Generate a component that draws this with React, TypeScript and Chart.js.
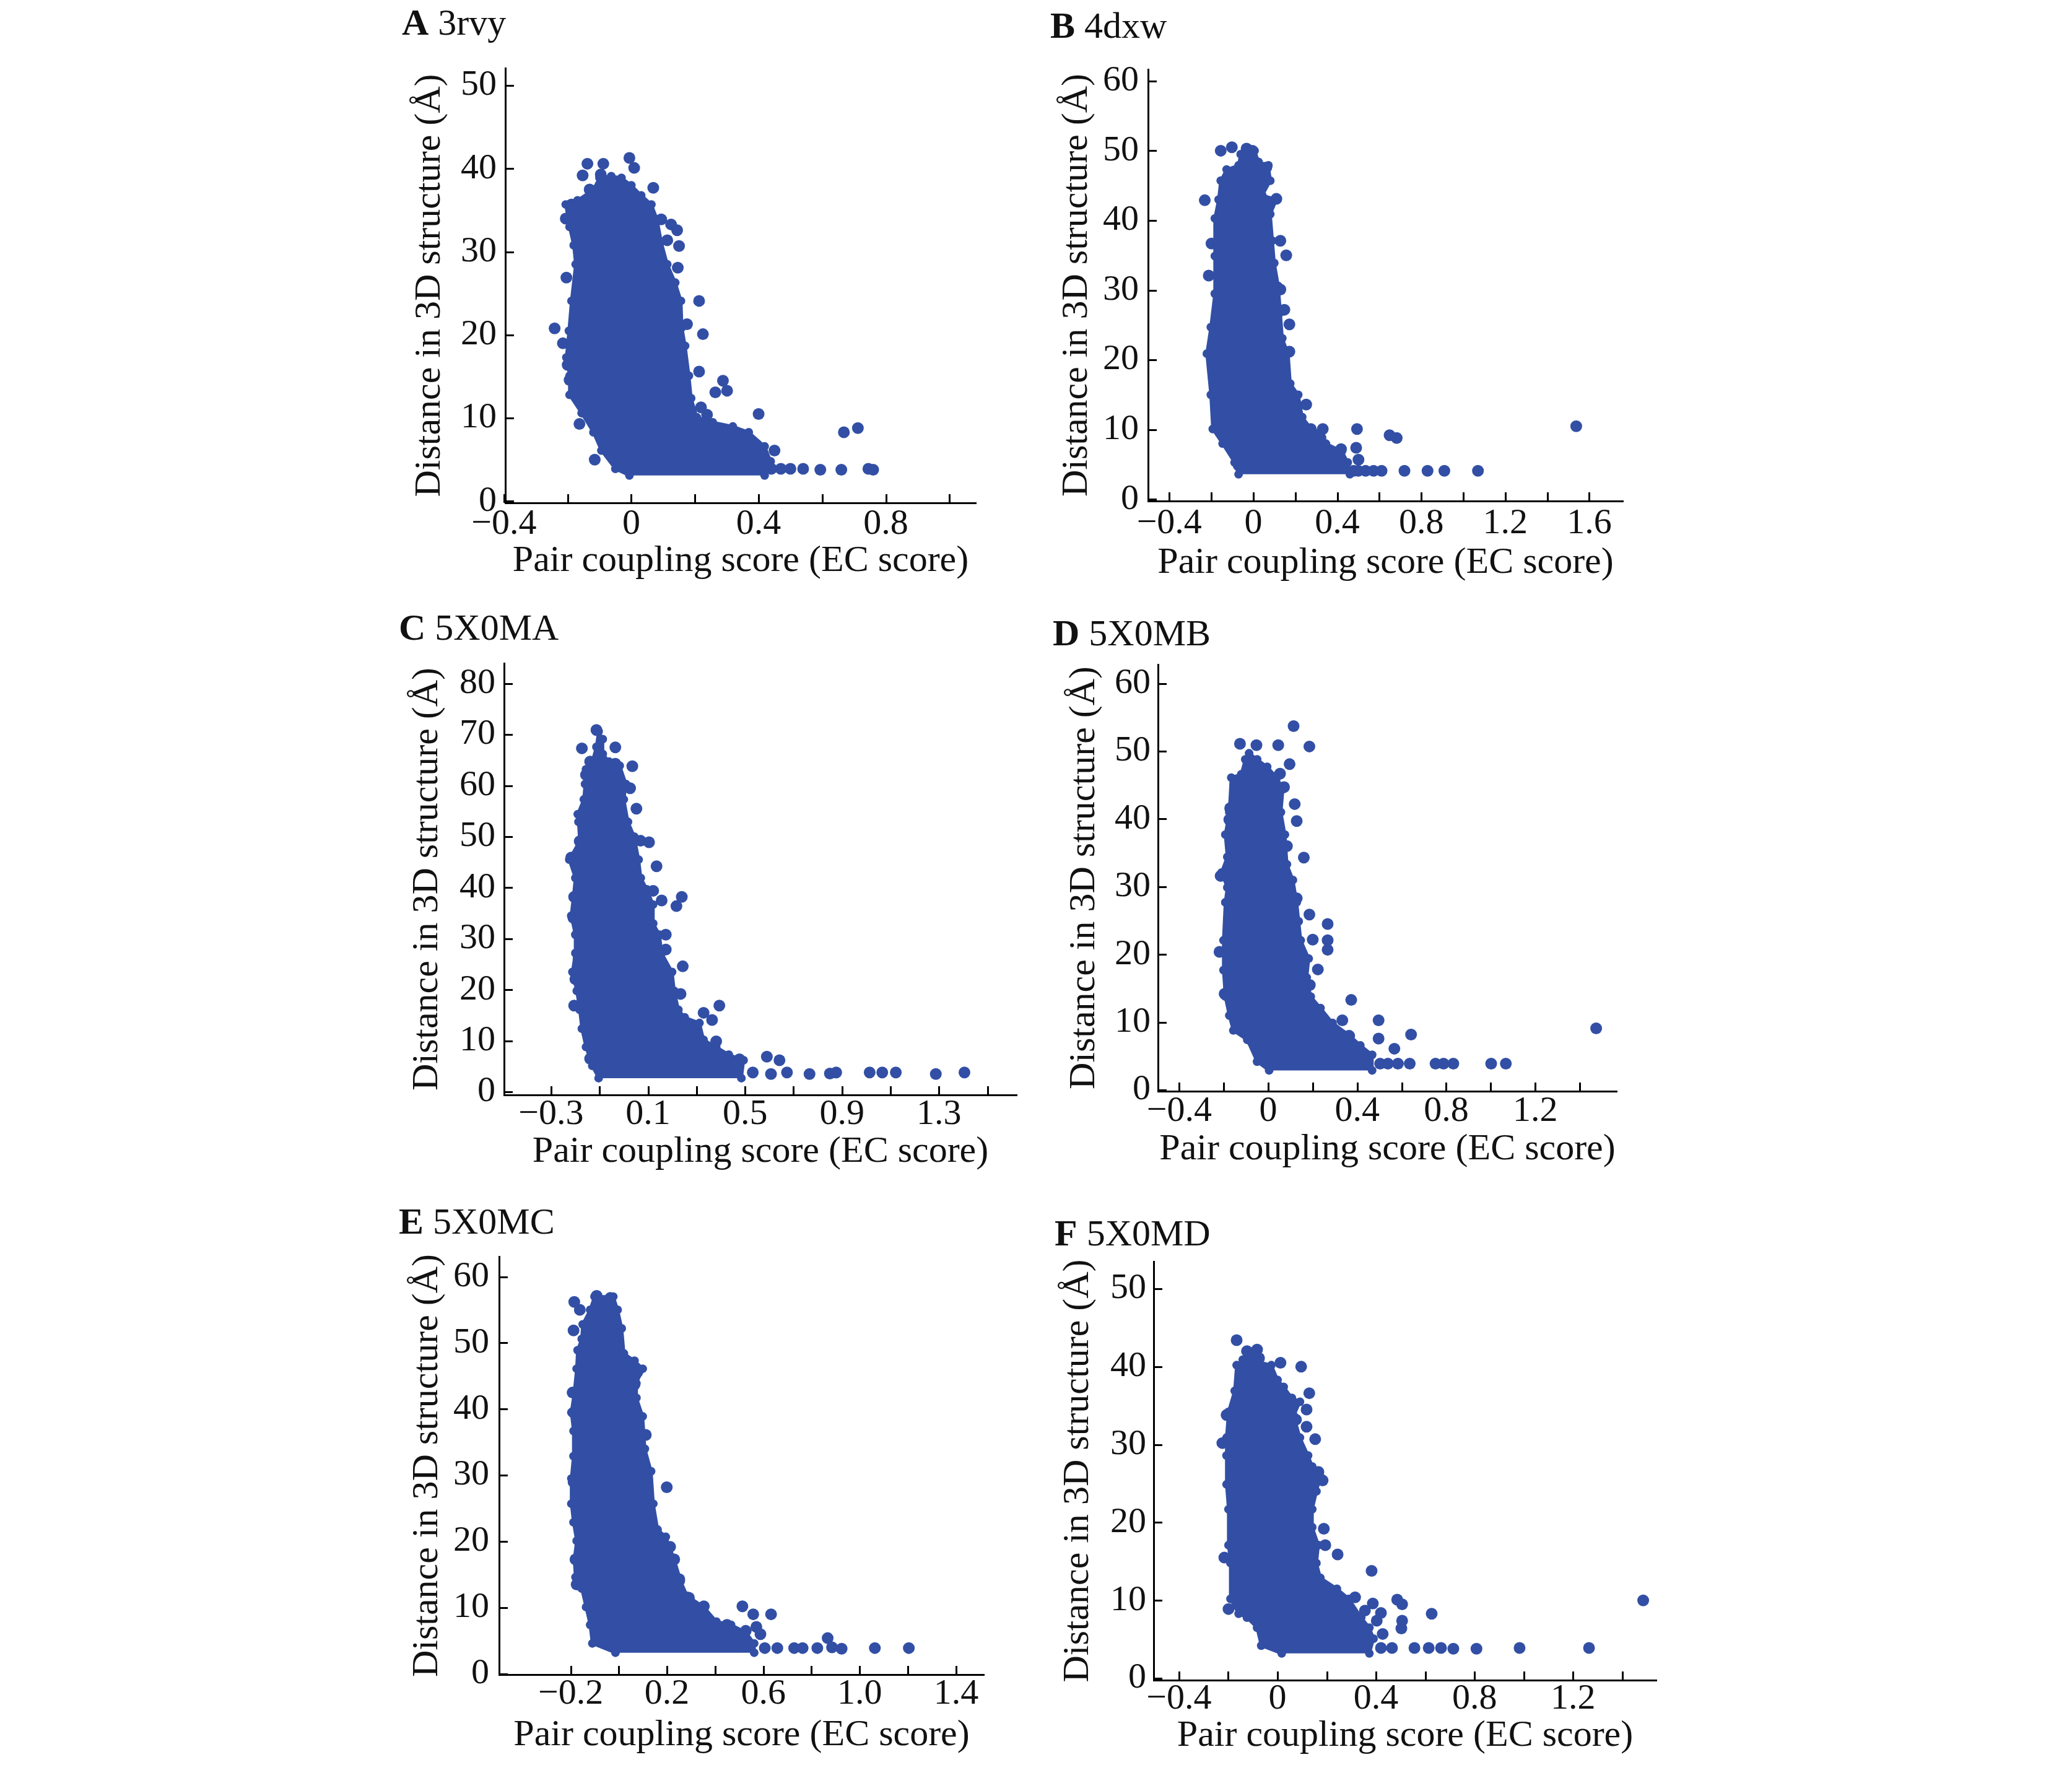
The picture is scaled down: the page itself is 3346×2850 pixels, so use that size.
import React, { useEffect, useRef } from 'react';
import { Chart, registerables } from 'chart.js';

Chart.register(...registerables);

const BLUE = 'rgb(50,79,165)';
const INK = '#111111';
const SERIF = "'Liberation Serif', 'Times New Roman', serif";
const X_TITLE = 'Pair coupling score (EC score)';
const Y_TITLE = 'Distance in 3D structure (Å)';

// ---------- Panel A: 3rvy ----------
const envelopeA: [number, number][] = [
  [-0.006, 3.1], [-0.05, 3.9], [-0.094, 6.1], [-0.119, 8.3], [-0.156, 10.6], [-0.194, 12.8],
  [-0.194, 15.1], [-0.204, 17.3], [-0.196, 20.5], [-0.188, 24.1], [-0.175, 28.5], [-0.181, 30.8],
  [-0.194, 33.0], [-0.206, 35.7], [-0.169, 36.2], [-0.119, 37.5], [-0.1, 38.9], [-0.063, 39.1],
  [-0.031, 38.9], [0, 38.0], [0.031, 36.8], [0.063, 35.7], [0.081, 33.9], [0.094, 31.2],
  [0.113, 28.5], [0.138, 26.3], [0.156, 24.1], [0.159, 20.9], [0.169, 18.7], [0.181, 15.1],
  [0.188, 12.4], [0.206, 10.1], [0.256, 9.5], [0.319, 9.0], [0.369, 8.3], [0.419, 6.6],
  [0.438, 4.8], [0.419, 3.1],
];
const outliersA: [number, number][] = [
  [-0.006, 41.3], [0.009, 40.1], [-0.138, 40.6], [-0.153, 39.2], [-0.088, 40.6], [-0.096, 39.3],
  [-0.131, 37.5], [0.069, 37.7], [0.094, 33.9], [0.125, 33.3], [0.144, 32.6], [0.113, 31.4],
  [0.15, 30.7], [0.146, 28.1], [0.213, 24.1], [0.225, 20.1], [0.175, 21.3], [0.213, 15.6],
  [0.288, 14.5], [0.264, 13.1], [0.301, 13.3], [0.219, 11.3], [0.238, 10.4], [0.4, 10.5],
  [0.668, 8.3], [0.712, 8.8], [-0.115, 5.0], [-0.241, 20.8], [-0.215, 19.0], [-0.204, 26.9],
  [-0.163, 9.3], [0.45, 6.1], [0.44, 3.9], [0.47, 3.9], [0.5, 3.9], [0.54, 3.9], [0.594, 3.8],
  [0.66, 3.8], [0.745, 3.9], [0.76, 3.8], [-0.206, 34.0], [-0.175, 32.8], [-0.188, 35.7],
  [-0.2, 16.4], [-0.194, 14.6],
];
const xTicksA = [-0.4, -0.2, 0, 0.2, 0.4, 0.6, 0.8, 1.0];
const xLabelsA = ['−0.4', '', '0', '', '0.4', '', '0.8', ''];
const yTicksA = [0, 10, 20, 30, 40, 50];

// ---------- Panel B: 4dxw ----------
const envelopeB: [number, number][] = [
  [-0.07, 3.6], [-0.089, 5.3], [-0.146, 8.0], [-0.193, 10.1], [-0.202, 15.0], [-0.221, 20.9],
  [-0.202, 24.7], [-0.183, 29.5], [-0.183, 34.9], [-0.183, 40.3], [-0.165, 43.0], [-0.155, 45.7],
  [-0.127, 47.3], [-0.07, 47.9], [-0.06, 49.5], [0.006, 50.0], [0.025, 48.4], [0.072, 47.9],
  [0.081, 45.7], [0.043, 43.6], [0.11, 43.0], [0.081, 40.9], [0.091, 37.1], [0.1, 33.9],
  [0.119, 30.6], [0.129, 26.8], [0.138, 23.1], [0.166, 20.9], [0.176, 16.6], [0.214, 15.0],
  [0.233, 11.8], [0.289, 9.6], [0.346, 8.0], [0.422, 6.9], [0.45, 5.3], [0.46, 3.6],
];
const outliersB: [number, number][] = [
  [-0.231, 42.9], [-0.199, 36.7], [-0.212, 32.1], [-0.155, 50.0], [-0.102, 50.5], [-0.032, 50.3],
  [-0.004, 50.0], [0.062, 47.6], [0.11, 43.1], [0.129, 37.1], [0.157, 35.0], [0.129, 30.1],
  [0.148, 27.2], [0.172, 25.1], [0.172, 21.2], [0.252, 13.6], [0.274, 10.1], [0.331, 10.1],
  [0.32, 8.8], [0.494, 10.1], [0.49, 7.4], [0.501, 5.7], [0.418, 7.2], [0.649, 9.2], [0.683, 8.8],
  [0.611, 4.1], [0.72, 4.1], [0.83, 4.1], [0.91, 4.1], [1.07, 4.1], [1.538, 10.5], [-0.07, 4.9],
  [0.535, 4.1], [0.573, 4.1], [0.478, 4.1], [0.5, 4.1],
];
const xTicksB = [-0.4, -0.2, 0, 0.2, 0.4, 0.6, 0.8, 1.0, 1.2, 1.4, 1.6];
const xLabelsB = ['−0.4', '', '0', '', '0.4', '', '0.8', '', '1.2', '', '1.6'];
const yTicksB = [0, 10, 20, 30, 40, 50, 60];

// ---------- Panel C: 5X0MA ----------
const envelopeC: [number, number][] = [
  [-0.104, 2.7], [-0.13, 5.1], [-0.156, 8.8], [-0.173, 12.4], [-0.182, 16.1], [-0.194, 19.8],
  [-0.212, 23.5], [-0.2, 27.2], [-0.2, 30.8], [-0.217, 34.5], [-0.208, 38.2], [-0.2, 41.9],
  [-0.225, 45.5], [-0.182, 49.2], [-0.187, 52.9], [-0.19, 54.4], [-0.165, 57.3], [-0.16, 60.3],
  [-0.156, 63.2], [-0.13, 64.7], [-0.113, 67.6], [-0.104, 70.6], [-0.087, 69.1], [-0.087, 66.2],
  [-0.061, 64.7], [-0.017, 63.9], [0.009, 60.3], [0.0, 57.3], [0.017, 52.9], [0.043, 50.0],
  [0.061, 45.5], [0.07, 41.9], [0.095, 39.7], [0.121, 36.7], [0.121, 33.0], [0.147, 30.8],
  [0.156, 27.2], [0.199, 23.5], [0.208, 19.8], [0.225, 16.1], [0.251, 14.6], [0.312, 13.5],
  [0.329, 10.2], [0.381, 8.8], [0.433, 7.3], [0.494, 6.2], [0.485, 2.7],
];
const outliersC: [number, number][] = [
  [-0.113, 70.9], [-0.173, 67.3], [-0.139, 64.7], [-0.156, 62.1], [-0.035, 67.5], [-0.035, 64.3],
  [0.035, 63.8], [0.026, 59.5], [0.052, 55.5], [0.069, 49.2], [0.104, 48.9], [0.135, 44.2],
  [0.121, 39.4], [0.156, 37.5], [0.239, 38.2], [0.217, 36.4], [0.173, 30.8], [0.173, 27.9],
  [0.243, 24.6], [0.234, 19.2], [0.394, 16.9], [0.329, 15.5], [0.364, 14.1], [0.381, 9.9],
  [0.477, 6.4], [0.59, 6.9], [0.642, 6.2], [0.416, 5.4], [0.532, 3.8], [0.607, 3.5], [0.673, 3.8],
  [0.766, 3.5], [0.85, 3.6], [0.876, 3.8], [1.014, 3.8], [1.066, 3.8], [1.122, 3.8], [1.287, 3.5],
  [1.405, 3.8], [-0.205, 16.9], [-0.2, 22.1], [-0.187, 26.1], [-0.205, 38.2], [-0.182, 49.1],
  [-0.217, 45.9], [-0.139, 6.5], [-0.208, 34.1],
];
const xTicksC = [-0.3, -0.1, 0.1, 0.3, 0.5, 0.7, 0.9, 1.1, 1.3, 1.5];
const xLabelsC = ['−0.3', '', '0.1', '', '0.5', '', '0.9', '', '1.3', ''];
const yTicksC = [0, 10, 20, 30, 40, 50, 60, 70, 80];

// ---------- Panel D: 5X0MB ----------
const envelopeD: [number, number][] = [
  [0.004, 2.9], [-0.05, 4.2], [-0.094, 7.4], [-0.157, 8.8], [-0.175, 11.0], [-0.193, 13.8],
  [-0.201, 17.7], [-0.201, 22.1], [-0.193, 27.7], [-0.184, 29.9], [-0.21, 32.1], [-0.184, 34.4],
  [-0.193, 37.7], [-0.175, 41.0], [-0.166, 46.1], [-0.121, 46.6], [-0.103, 48.8], [-0.086, 49.7],
  [-0.05, 48.8], [-0.005, 47.7], [0.039, 46.1], [0.066, 44.4], [0.057, 41.0], [0.075, 37.7],
  [0.084, 33.3], [0.111, 31.0], [0.128, 27.7], [0.137, 24.9], [0.146, 22.1], [0.182, 19.4],
  [0.173, 16.6], [0.191, 13.8], [0.235, 12.1], [0.289, 9.9], [0.36, 8.2], [0.414, 6.6],
  [0.467, 5.2], [0.467, 2.9],
];
const outliersD: [number, number][] = [
  [-0.127, 51.1], [-0.053, 50.9], [0.045, 50.9], [0.114, 53.7], [0.185, 50.7], [0.096, 48.1],
  [0.053, 46.7], [0.071, 44.7], [0.119, 42.2], [0.128, 39.7], [0.084, 36.0], [0.16, 34.3],
  [0.128, 28.3], [0.185, 25.9], [0.267, 24.5], [0.2, 22.2], [0.267, 22.1], [0.267, 20.7],
  [0.223, 17.8], [0.187, 15.5], [0.373, 13.3], [0.333, 10.3], [0.364, 8.0], [0.496, 10.3],
  [0.496, 7.6], [0.567, 6.1], [0.642, 8.2], [0.583, 3.9], [0.636, 3.9], [0.752, 3.9], [0.788, 3.9],
  [0.832, 3.9], [1.002, 3.9], [1.068, 3.9], [1.474, 9.1], [-0.214, 31.6], [-0.219, 20.4],
  [-0.196, 14.2], [-0.175, 39.9], [-0.171, 41.6], [-0.148, 45.1], [0.503, 3.9], [0.538, 3.9],
];
const xTicksD = [-0.4, -0.2, 0, 0.2, 0.4, 0.6, 0.8, 1.0, 1.2, 1.4];
const xLabelsD = ['−0.4', '', '0', '', '0.4', '', '0.8', '', '1.2', ''];
const yTicksD = [0, 10, 20, 30, 40, 50, 60];

// ---------- Panel E: 5X0MC ----------
const envelopeE: [number, number][] = [
  [-0.014, 3.2], [-0.11, 4.6], [-0.119, 7.4], [-0.136, 10.1], [-0.154, 12.9], [-0.18, 14.6],
  [-0.185, 17.3], [-0.175, 20.1], [-0.188, 22.9], [-0.197, 25.7], [-0.197, 29.5], [-0.188, 32.9],
  [-0.188, 36.7], [-0.197, 39.5], [-0.185, 42.5], [-0.175, 46.1], [-0.171, 48.9], [-0.154, 50.6],
  [-0.15, 52.8], [-0.119, 55.0], [-0.101, 57.0], [-0.023, 57.0], [-0.005, 55.0], [0.012, 52.2],
  [0.021, 48.4], [0.065, 47.3], [0.099, 46.1], [0.073, 43.9], [0.073, 41.7], [0.099, 38.9],
  [0.108, 34.0], [0.134, 30.6], [0.143, 25.7], [0.161, 21.8], [0.195, 20.7], [0.23, 17.3],
  [0.257, 14.0], [0.283, 11.8], [0.353, 10.1], [0.405, 7.9], [0.466, 7.4], [0.527, 6.3],
  [0.562, 4.6], [0.562, 3.2],
];
const outliersE: [number, number][] = [
  [-0.185, 56.2], [-0.162, 55.0], [-0.188, 51.9], [-0.092, 57.1], [-0.035, 56.8], [0.077, 45.6],
  [0.065, 43.7], [0.112, 36.1], [0.199, 28.2], [0.213, 19.2], [0.23, 17.3], [0.251, 14.3],
  [0.291, 11.5], [0.353, 10.2], [0.513, 10.2], [0.558, 9.0], [0.632, 9.0], [0.571, 7.1],
  [0.588, 6.0], [0.527, 6.5], [0.449, 7.4], [0.658, 3.9], [0.728, 3.9], [0.763, 3.9], [0.824, 3.9],
  [0.867, 5.4], [0.885, 4.0], [0.925, 3.8], [1.063, 3.9], [1.204, 3.9], [0.606, 3.9],
  [-0.188, 39.5], [-0.192, 42.5], [-0.188, 29.0], [-0.175, 13.5], [-0.18, 17.3],
];
const xTicksE = [-0.2, 0, 0.2, 0.4, 0.6, 0.8, 1.0, 1.2, 1.4];
const xLabelsE = ['−0.2', '', '0.2', '', '0.6', '', '1.0', '', '1.4'];
const yTicksE = [0, 10, 20, 30, 40, 50, 60];

// ---------- Panel F: 5X0MD ----------
const envelopeF: [number, number][] = [
  [0.017, 3.2], [-0.066, 4.2], [-0.083, 6.5], [-0.124, 7.8], [-0.158, 8.3], [-0.191, 10.2],
  [-0.191, 14.8], [-0.199, 17.1], [-0.199, 21.7], [-0.207, 24.9], [-0.207, 28.6], [-0.207, 30.9],
  [-0.199, 34.2], [-0.174, 36.9], [-0.166, 40.2], [-0.141, 40.9], [-0.108, 41.6], [-0.075, 40.6],
  [-0.025, 40.2], [0.0, 38.3], [0.025, 37.4], [0.058, 36.0], [0.091, 35.5], [0.066, 33.7],
  [0.091, 30.9], [0.124, 28.6], [0.141, 27.2], [0.174, 25.9], [0.158, 24.0], [0.141, 21.7],
  [0.141, 19.4], [0.166, 17.1], [0.158, 14.8], [0.174, 12.9], [0.241, 11.5], [0.29, 10.2],
  [0.34, 7.8], [0.373, 6.5], [0.39, 5.1], [0.373, 3.2],
];
const outliersF: [number, number][] = [
  [-0.166, 43.4], [-0.124, 42.0], [-0.083, 42.2], [-0.075, 41.1], [0.012, 40.5], [0.096, 40.0],
  [0.129, 36.6], [0.118, 34.5], [0.075, 33.2], [0.118, 32.3], [0.153, 30.7], [0.166, 26.5],
  [0.183, 25.4], [0.188, 19.2], [0.244, 15.9], [0.194, 17.1], [0.382, 13.8], [0.315, 10.4],
  [0.387, 9.6], [0.355, 8.7], [0.42, 8.4], [0.403, 7.4], [0.427, 5.7], [0.486, 10.1], [0.506, 9.5],
  [0.626, 8.3], [0.506, 7.4], [0.503, 6.4], [0.556, 3.9], [0.614, 3.9], [0.664, 3.9], [0.714, 3.8],
  [0.808, 3.8], [0.983, 3.9], [1.265, 3.9], [1.485, 10.0], [-0.224, 30.2], [-0.207, 33.8],
  [-0.216, 15.5], [-0.199, 8.9], [0.465, 3.9], [0.42, 3.9],
];
const xTicksF = [-0.4, -0.2, 0, 0.2, 0.4, 0.6, 0.8, 1.0, 1.2, 1.4];
const xLabelsF = ['−0.4', '', '0', '', '0.4', '', '0.8', '', '1.2', ''];
const yTicksF = [0, 10, 20, 30, 40, 50];

// ---------- layout of the six panels (page pixels) ----------
type Spec = {
  letter: string; name: string;
  envelope: [number, number][]; outliers: [number, number][];
  xTicks: number[]; xLabels: string[]; yTicks: number[];
  xMin: number; xMax: number; yMin: number; yMax: number;
  L: number; R: number; T: number; B: number;
  titleX: number; titleBase: number;
  yTitleGap: number; xTitleGap: number; xLabelGap: number; yLabelGap: number;
};

const specs: Spec[] = [
  { letter: 'A', name: '3rvy', envelope: envelopeA, outliers: outliersA, xTicks: xTicksA, xLabels: xLabelsA, yTicks: yTicksA,
    xMin: -0.396, xMax: 1.083, yMin: -0.19, yMax: 52.1, L: 816, R: 1576, T: 107, B: 812,
    titleX: 649, titleBase: 56, yTitleGap: 122, xTitleGap: 115, xLabelGap: 54, yLabelGap: 14 },
  { letter: 'B', name: '4dxw', envelope: envelopeB, outliers: outliersB, xTicks: xTicksB, xLabels: xLabelsB, yTicks: yTicksB,
    xMin: -0.501, xMax: 1.761, yMin: -0.23, yMax: 61.67, L: 1854, R: 2621, T: 108, B: 809,
    titleX: 1696, titleBase: 61, yTitleGap: 115, xTitleGap: 121, xLabelGap: 56, yLabelGap: 15 },
  { letter: 'C', name: '5X0MA', envelope: envelopeC, outliers: outliersC, xTicks: xTicksC, xLabels: xLabelsC, yTicks: yTicksC,
    xMin: -0.494, xMax: 1.621, yMin: -0.59, yMax: 83.97, L: 814, R: 1642, T: 1068, B: 1768,
    titleX: 644, titleBase: 1033, yTitleGap: 124, xTitleGap: 113, xLabelGap: 51, yLabelGap: 14 },
  { letter: 'D', name: '5X0MB', envelope: envelopeD, outliers: outliersD, xTicks: xTicksD, xLabels: xLabelsD, yTicks: yTicksD,
    xMin: -0.4955, xMax: 1.567, yMin: -0.17, yMax: 62.8, L: 1870, R: 2611, T: 1072, B: 1762,
    titleX: 1700, titleBase: 1042, yTitleGap: 119, xTitleGap: 115, xLabelGap: 52, yLabelGap: 12 },
  { letter: 'E', name: '5X0MC', envelope: envelopeE, outliers: outliersE, xTicks: xTicksE, xLabels: xLabelsE, yTicks: yTicksE,
    xMin: -0.497, xMax: 1.516, yMin: -0.11, yMax: 63.05, L: 806, R: 1589, T: 2024, B: 2704,
    titleX: 644, titleBase: 1992, yTitleGap: 116, xTitleGap: 119, xLabelGap: 51, yLabelGap: 16 },
  { letter: 'F', name: '5X0MD', envelope: envelopeF, outliers: outliersF, xTicks: xTicksF, xLabels: xLabelsF, yTicks: yTicksF,
    xMin: -0.503, xMax: 1.539, yMin: -0.23, yMax: 53.5, L: 1863, R: 2675, T: 2036, B: 2713,
    titleX: 1703, titleBase: 2011, yTitleGap: 122, xTitleGap: 111, xLabelGap: 50, yLabelGap: 12 },
];

const WY = 170;   // width of the y-axis box
const HX = 150;   // height of the x-axis box
const PT = 40;
const PR = 70;
const PB = 10;
const TICK_FONT = 58;
const TITLE_FONT = 60;
const TICK_LEN = 14;
const AXIS_W = 3;
const MARK_R = 9.5;

const inwardTicks = {
  id: 'inwardTicks',
  afterDraw(chart: any) {
    const { ctx, chartArea, scales } = chart;
    ctx.save();
    ctx.strokeStyle = '#000';
    ctx.lineWidth = AXIS_W;
    ctx.beginPath();
    for (const t of scales.x.ticks) {
      const px = Math.round(scales.x.getPixelForValue(t.value)) + 0.5;
      ctx.moveTo(px, chartArea.bottom);
      ctx.lineTo(px, chartArea.bottom - TICK_LEN);
    }
    for (const t of scales.y.ticks) {
      const py = Math.round(scales.y.getPixelForValue(t.value)) + 0.5;
      ctx.moveTo(chartArea.left, py);
      ctx.lineTo(chartArea.left + TICK_LEN, py);
    }
    ctx.stroke();
    ctx.restore();
  },
};

function Panel({ spec }: { spec: Spec }) {
  const ref = useRef<HTMLCanvasElement>(null);
  const left = Math.round(spec.L - WY);
  const top = Math.round(spec.T - PT);
  const width = Math.round(WY + (spec.R - spec.L) + PR);
  const height = Math.round(PT + (spec.B - spec.T) + HX + PB);

  useEffect(() => {
    if (!ref.current) return;
    const chart = new Chart(ref.current, {
      type: 'scatter',
      data: {
        datasets: [
          {
            type: 'line',
            data: spec.envelope.map(([x, y]) => ({ x, y })),
            fill: 'shape',
            backgroundColor: BLUE,
            borderColor: BLUE,
            borderWidth: 5,
            borderJoinStyle: 'round',
            pointRadius: 7,
            pointBackgroundColor: BLUE,
            pointBorderWidth: 0,
            tension: 0,
          } as any,
          {
            data: spec.outliers.map(([x, y]) => ({ x, y })),
            backgroundColor: BLUE,
            borderColor: BLUE,
            borderWidth: 0,
            pointRadius: MARK_R,
            pointStyle: 'circle',
          },
        ],
      },
      options: {
        animation: false,
        responsive: false,
        devicePixelRatio: 1,
        events: [],
        layout: { padding: { top: PT, right: PR, bottom: PB, left: 0 } },
        plugins: { legend: { display: false }, tooltip: { enabled: false } },
        scales: {
          x: {
            type: 'linear',
            min: spec.xMin,
            max: spec.xMax,
            bounds: 'data',
            afterBuildTicks: (s: any) => { s.ticks = spec.xTicks.map((v) => ({ value: v })); },
            afterFit: (s: any) => { s.height = HX; },
            grid: { display: false, drawTicks: false },
            border: { display: true, color: '#000', width: AXIS_W },
            ticks: {
              autoSkip: false,
              maxRotation: 0,
              minRotation: 0,
              padding: spec.xLabelGap - 0.34 * TICK_FONT - TICK_FONT / 2,
              color: INK,
              font: { family: SERIF, size: TICK_FONT, lineHeight: 1 },
              callback: (_v: any, i: number) => spec.xLabels[i] ?? '',
            },
            title: {
              display: true,
              text: X_TITLE,
              color: INK,
              font: { family: SERIF, size: TITLE_FONT, lineHeight: 1 },
              padding: { top: 0, bottom: HX - TITLE_FONT / 2 - (spec.xTitleGap - 0.34 * TITLE_FONT) },
            },
          },
          y: {
            type: 'linear',
            min: spec.yMin,
            max: spec.yMax,
            bounds: 'data',
            afterBuildTicks: (s: any) => { s.ticks = spec.yTicks.map((v) => ({ value: v })); },
            afterFit: (s: any) => { s.width = WY; },
            grid: { display: false, drawTicks: false },
            border: { display: true, color: '#000', width: AXIS_W },
            ticks: {
              autoSkip: false,
              padding: spec.yLabelGap,
              color: INK,
              font: { family: SERIF, size: TICK_FONT, lineHeight: 1 },
              callback: (v: any) => String(v),
            },
            title: {
              display: true,
              text: Y_TITLE,
              color: INK,
              font: { family: SERIF, size: TITLE_FONT, lineHeight: 1 },
              padding: { top: WY - spec.yTitleGap - TITLE_FONT / 2, bottom: 0 },
            },
          },
        },
      } as any,
      plugins: [inwardTicks],
    });
    return () => chart.destroy();
  }, [spec]);

  return (
    <>
      <div
        style={{
          position: 'absolute',
          left: spec.titleX,
          top: spec.titleBase - 50,
          font: `${TITLE_FONT}px ${SERIF}`,
          lineHeight: 1,
          color: INK,
          whiteSpace: 'nowrap',
        }}
      >
        <b>{spec.letter}</b> {spec.name}
      </div>
      <canvas
        ref={ref}
        width={width}
        height={height}
        style={{ position: 'absolute', left, top, width, height }}
      />
    </>
  );
}

export default function App() {
  return (
    <div
      style={{
        position: 'absolute',
        left: 0,
        top: 0,
        width: 3346,
        height: 2850,
        background: '#ffffff',
        overflow: 'hidden',
      }}
    >
      {specs.map((s) => (
        <Panel key={s.letter} spec={s} />
      ))}
    </div>
  );
}
